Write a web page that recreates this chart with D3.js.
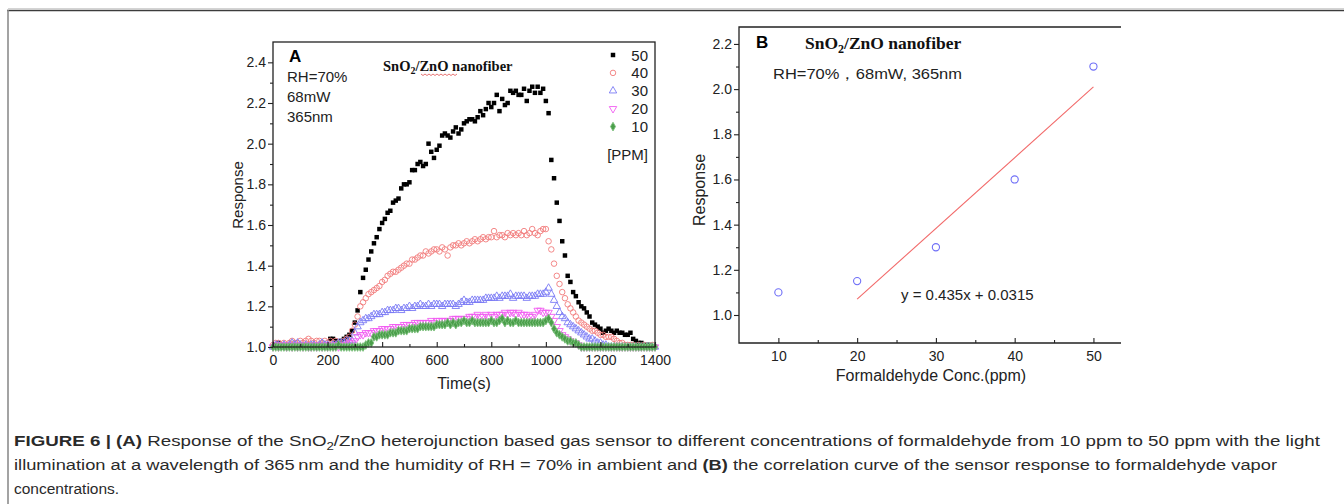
<!DOCTYPE html>
<html>
<head>
<meta charset="utf-8">
<script src="https://cdn.jsdelivr.net/npm/d3@7"></script>
<style>
body { margin: 0; background: #fff; }
svg { display: block; font-family: Arial, "Liberation Sans", sans-serif; }
</style>
</head>
<body>
<div id="container"></div>
<script>
var WIDTH = 1344, HEIGHT = 504;

// ---- panel A data: response vs time, one sample every 10 s from 0 to 1400 s ----
var TIME_STEP = 10;
var resp50 = [
	1.00,1.01,1.02,1.01,1.00,1.01,1.00,1.01,1.00,1.01,
	1.00,1.01,1.00,1.01,1.00,1.01,1.00,1.01,1.01,1.00,
	1.01,1.04,1.04,1.03,1.02,1.03,1.04,1.05,1.06,1.08,
	1.12,1.18,1.27,1.34,1.38,1.43,1.47,1.51,1.54,1.58,
	1.61,1.63,1.66,1.67,1.71,1.72,1.73,1.78,1.80,1.80,
	1.81,1.87,1.87,1.90,1.91,1.89,1.90,2.00,1.96,1.93,
	1.97,1.99,2.04,2.05,2.04,2.03,2.06,2.08,2.05,2.07,
	2.10,2.11,2.12,2.12,2.11,2.13,2.16,2.14,2.17,2.20,
	2.18,2.20,2.24,2.16,2.22,2.19,2.20,2.26,2.25,2.26,
	2.24,2.24,2.27,2.21,2.26,2.28,2.25,2.28,2.25,2.27,
	2.21,2.15,1.92,1.83,1.71,1.62,1.52,1.45,1.35,1.32,
	1.27,1.25,1.22,1.20,1.19,1.17,1.15,1.12,1.11,1.10,
	1.09,1.07,1.08,1.09,1.08,1.07,1.08,1.07,1.07,1.06,
	1.06,1.07,1.04,1.03,1.02,1.02,1.01,1.01,1.01,1.00,
	1.00];
var resp40 = [
	1.01,1.02,1.02,1.01,1.02,1.01,1.02,1.03,1.02,1.02,
	1.03,1.02,1.03,1.04,1.03,1.02,1.03,1.03,1.02,1.03,
	1.02,1.03,1.02,1.03,1.02,1.02,1.03,1.04,1.05,1.08,
	1.11,1.15,1.20,1.22,1.24,1.26,1.27,1.28,1.29,1.30,
	1.32,1.33,1.35,1.36,1.37,1.37,1.38,1.39,1.40,1.41,
	1.41,1.43,1.43,1.44,1.45,1.45,1.47,1.46,1.47,1.48,
	1.48,1.47,1.49,1.48,1.45,1.49,1.50,1.50,1.51,1.50,
	1.51,1.52,1.51,1.52,1.53,1.52,1.53,1.54,1.53,1.54,
	1.54,1.57,1.54,1.55,1.55,1.54,1.56,1.55,1.56,1.55,
	1.56,1.55,1.57,1.55,1.56,1.58,1.56,1.55,1.57,1.58,
	1.58,1.52,1.48,1.41,1.35,1.31,1.27,1.24,1.21,1.19,
	1.17,1.15,1.13,1.12,1.11,1.10,1.09,1.08,1.08,1.07,
	1.06,1.06,1.05,1.05,1.05,1.04,1.03,1.02,1.02,1.01,
	1.01,1.01,1.01,1.00,1.01,1.00,1.01,1.00,1.00,1.01,
	1.00];
var resp30 = [
	1.00,1.01,1.01,1.00,1.01,1.00,1.01,1.02,1.01,1.02,
	1.01,1.00,1.01,1.00,1.01,1.01,1.00,1.01,1.02,1.01,
	1.01,1.00,1.01,1.01,1.02,1.02,1.02,1.03,1.03,1.03,
	1.07,1.10,1.12,1.13,1.14,1.14,1.15,1.16,1.16,1.16,
	1.17,1.17,1.18,1.18,1.18,1.19,1.19,1.18,1.19,1.19,
	1.20,1.19,1.20,1.20,1.21,1.20,1.20,1.21,1.20,1.21,
	1.21,1.21,1.20,1.21,1.21,1.21,1.21,1.20,1.21,1.22,
	1.23,1.22,1.22,1.23,1.23,1.23,1.23,1.23,1.24,1.24,
	1.24,1.24,1.25,1.24,1.25,1.25,1.25,1.26,1.24,1.25,
	1.25,1.25,1.25,1.24,1.25,1.25,1.25,1.26,1.26,1.26,
	1.27,1.29,1.26,1.23,1.20,1.17,1.15,1.14,1.12,1.11,
	1.10,1.09,1.08,1.07,1.06,1.05,1.04,1.04,1.03,1.02,
	1.02,1.01,1.01,1.00,1.00,1.00,1.00,1.00,1.00,1.00,
	1.00,1.00,1.00,1.00,1.00,1.00,1.00,1.00,1.00,1.00,
	1.00];
var resp20 = [
	1.00,1.01,1.00,1.01,1.01,1.00,1.01,1.00,1.01,1.00,
	1.01,1.00,1.01,1.00,1.00,1.01,1.00,1.01,1.00,1.01,
	1.00,1.01,1.00,1.01,1.00,1.01,1.01,1.01,1.02,1.02,
	1.03,1.05,1.06,1.06,1.07,1.07,1.07,1.08,1.08,1.08,
	1.09,1.09,1.09,1.09,1.10,1.10,1.10,1.10,1.11,1.11,
	1.11,1.11,1.12,1.12,1.12,1.12,1.12,1.12,1.13,1.12,
	1.13,1.13,1.13,1.13,1.13,1.13,1.14,1.14,1.14,1.14,
	1.14,1.14,1.15,1.15,1.15,1.16,1.15,1.15,1.16,1.15,
	1.16,1.15,1.16,1.16,1.16,1.17,1.16,1.17,1.17,1.16,
	1.17,1.16,1.16,1.16,1.15,1.15,1.16,1.18,1.18,1.17,
	1.17,1.17,1.15,1.13,1.10,1.08,1.06,1.05,1.04,1.03,
	1.02,1.02,1.01,1.00,1.00,1.00,1.00,1.00,1.00,1.00,
	1.00,1.00,1.00,1.00,1.00,1.00,1.00,1.00,1.00,1.00,
	1.00,1.00,1.00,1.00,1.00,1.00,1.00,1.00,1.00,1.00,
	1.00];
var resp10 = [
	1.00,1.00,1.00,1.00,1.00,1.00,1.00,1.00,1.00,1.00,
	1.00,1.00,1.00,1.00,1.00,1.00,1.00,1.00,1.00,1.00,
	1.00,1.00,1.00,1.00,1.01,1.00,1.00,1.00,1.00,1.00,
	1.00,1.00,1.00,1.00,1.01,1.02,1.02,1.05,1.05,1.06,
	1.06,1.06,1.06,1.07,1.07,1.07,1.08,1.08,1.08,1.08,
	1.09,1.09,1.09,1.09,1.10,1.10,1.10,1.10,1.10,1.10,
	1.11,1.11,1.11,1.11,1.12,1.11,1.12,1.11,1.12,1.12,
	1.13,1.12,1.12,1.13,1.12,1.12,1.12,1.12,1.12,1.12,
	1.13,1.12,1.12,1.13,1.14,1.12,1.13,1.12,1.12,1.13,
	1.12,1.12,1.12,1.12,1.12,1.12,1.12,1.12,1.12,1.12,
	1.13,1.14,1.12,1.09,1.07,1.06,1.05,1.04,1.03,1.03,
	1.02,1.02,1.01,1.00,1.00,1.00,1.00,1.00,1.00,1.00,
	1.00,1.00,1.00,1.00,1.00,1.00,1.00,1.00,1.00,1.00,
	1.00,1.00,1.00,1.00,1.00,1.00,1.00,1.00,1.00,1.00,
	1.00];
var legendLabelsA = ['50', '40', '30', '20', '10'];
var xTicksA = [0, 200, 400, 600, 800, 1000, 1200, 1400];
var yTicksA = [1.0, 1.2, 1.4, 1.6, 1.8, 2.0, 2.2, 2.4];

// ---- panel B data: response vs formaldehyde concentration ----
var concB = [10, 20, 30, 40, 50];
var respB = [1.10, 1.15, 1.30, 1.60, 2.10];
var fitConc = [20, 50];
var fitResp = [1.07, 2.01];
var xTicksB = [10, 20, 30, 40, 50];
var yTicksB = [1.0, 1.2, 1.4, 1.6, 1.8, 2.0, 2.2];

// marker styles, same order as legendLabelsA
var styleA = [
	{ sym: d3.symbolSquare, size: 20, fill: '#000', stroke: 'none', rot: 0 },
	{ sym: d3.symbolCircle, size: 24, fill: 'none', stroke: '#f27c7c', rot: 0 },
	{ sym: d3.symbolTriangle, size: 24, fill: 'none', stroke: '#7a7af5', rot: 0 },
	{ sym: d3.symbolTriangle, size: 24, fill: 'none', stroke: '#f25cf2', rot: 180 },
	{ sym: d3.symbolDiamond, size: 22, fill: '#4a9e4a', stroke: '#7cc07c', rot: 0 }
];

var translate = function (x, y) {
	return 'translate(' + x + ',' + y + ')';
};

var svg = d3.select('#container').append('svg')
	.attr('width', WIDTH)
	.attr('height', HEIGHT);

svg.append('rect').attr('width', WIDTH).attr('height', HEIGHT).attr('fill', '#fff');

// outer figure frame (top and left rules)
svg.append('line').attr('x1', 8).attr('x2', WIDTH).attr('y1', 8.5).attr('y2', 8.5)
	.attr('stroke', '#d4d4d4').attr('stroke-width', 1);
svg.append('line').attr('x1', 7).attr('x2', WIDTH).attr('y1', 10.5).attr('y2', 10.5)
	.attr('stroke', '#3c3c3c').attr('stroke-width', 1.6);
svg.append('line').attr('x1', 8).attr('x2', 8).attr('y1', 10).attr('y2', HEIGHT)
	.attr('stroke', '#8c8c8c').attr('stroke-width', 1.6);

function minorTicks(major) {
	var out = [];
	for (var i = 0; i < major.length - 1; i++) out.push((major[i] + major[i + 1]) / 2);
	return out;
}

function drawAxes(g, x, y, xt, yt, xMinor, yMinor) {
	var x0 = x.range()[0], y0 = y.range()[0];
	var ax = g.append('g').attr('class', 'axes');
	ax.append('g').attr('transform', translate(0, y0))
		.call(d3.axisBottom(x).tickValues(xMinor).tickSize(-3).tickFormat(''))
		.call(function (a) { a.select('.domain').remove(); });
	ax.append('g').attr('class', 'xlab').attr('transform', translate(0, y0))
		.call(d3.axisBottom(x).tickValues(xt).tickSize(-5).tickPadding(8).tickFormat(d3.format('d')))
		.call(function (a) { a.select('.domain').remove(); });
	ax.append('g').attr('transform', translate(x0, 0))
		.call(d3.axisLeft(y).tickValues(yMinor).tickSize(3).tickFormat(''))
		.call(function (a) { a.select('.domain').remove(); });
	ax.append('g').attr('class', 'ylab').attr('transform', translate(x0, 0))
		.call(d3.axisLeft(y).tickValues(yt).tickSize(5).tickPadding(2).tickFormat(d3.format('.1f')))
		.call(function (a) { a.select('.domain').remove(); });
	ax.selectAll('g').attr('font-size', null).attr('font-family', null);
	ax.selectAll('.tick text').style('font-size', '14px').attr('fill', '#222');
	ax.selectAll('.tick line').attr('stroke', '#222').attr('stroke-width', 1.1);
}

// ================= Panel A =================
var xA = d3.scaleLinear().domain([0, 1400]).range([273, 655]);
var yA = d3.scaleLinear().domain([1.0, 2.5]).range([347, 42]);
var gA = svg.append('g');

var seriesA = [resp50, resp40, resp30, resp20, resp10];
seriesA.forEach(function (vals, si) {
	var st = styleA[si];
	var sym = d3.symbol().type(st.sym).size(st.size);
	gA.append('g').selectAll('path').data(vals).enter().append('path')
		.attr('d', sym)
		.attr('transform', function (d, i) {
			return translate(xA(i * TIME_STEP), yA(d)) + (st.rot ? ' rotate(' + st.rot + ')' : '');
		})
		.attr('fill', st.fill)
		.attr('stroke', st.stroke)
		.attr('stroke-width', 0.9);
});

drawAxes(gA, xA, yA, xTicksA, yTicksA, minorTicks(xTicksA), minorTicks(yTicksA));
gA.append('rect').attr('x', 273).attr('y', 42).attr('width', 655 - 273).attr('height', 347 - 42)
	.attr('fill', 'none').attr('stroke', '#222').attr('stroke-width', 1.3);

gA.append('text').attr('x', 289).attr('y', 62).attr('font-size', 17).attr('font-weight', 'bold').text('A');
['RH=70%', '68mW', '365nm'].forEach(function (t, i) {
	gA.append('text').attr('x', 287).attr('y', 82 + i * 20).attr('font-size', 15).attr('fill', '#222').text(t);
});

var titleA = gA.append('text').attr('x', 383).attr('y', 71)
	.attr('font-family', '"Liberation Serif", "Times New Roman", serif')
	.attr('font-weight', 'bold').attr('font-size', 14.5).attr('fill', '#111');
titleA.append('tspan').text('SnO');
titleA.append('tspan').attr('font-size', 10).attr('dy', 3).text('2');
titleA.append('tspan').attr('dy', -3).text('/ZnO nanofiber');
// red spell-check squiggle under "ZnO"
var sq = d3.path();
sq.moveTo(421, 74);
for (var k = 0; k < 18; k++) sq.lineTo(421 + (k + 1) * 2, k % 2 ? 74 : 75.5);
gA.append('path').attr('d', sq.toString()).attr('fill', 'none').attr('stroke', '#e05050').attr('stroke-width', 0.8);

// legend
legendLabelsA.forEach(function (lab, i) {
	var st = styleA[i];
	var cy = 55 + i * 17.9;
	gA.append('path').attr('d', d3.symbol().type(st.sym).size(st.size)())
		.attr('transform', translate(613, cy) + (st.rot ? ' rotate(' + st.rot + ')' : ''))
		.attr('fill', st.fill).attr('stroke', st.stroke).attr('stroke-width', 0.9);
	gA.append('text').attr('x', 648).attr('y', cy + 5.5).attr('text-anchor', 'end')
		.attr('font-size', 15).attr('fill', '#222').text(lab);
});
gA.append('text').attr('x', 648).attr('y', 160).attr('text-anchor', 'end')
	.attr('font-size', 15).attr('fill', '#222').text('[PPM]');

gA.append('text').attr('transform', translate(243, 195) + ' rotate(-90)')
	.attr('text-anchor', 'middle').attr('font-size', 15).attr('fill', '#222').text('Response');
gA.append('text').attr('x', 464).attr('y', 389).attr('text-anchor', 'middle')
	.attr('font-size', 16).attr('fill', '#222').text('Time(s)');

// ================= Panel B =================
var xB = d3.scaleLinear().domain([5, 53.5]).range([739, 1121]);
var yB = d3.scaleLinear().domain([0.876, 2.275]).range([343, 27]);
var gB = svg.append('g');

drawAxes(gB, xB, yB, xTicksB, yTicksB, [15, 25, 35, 45], minorTicks(yTicksB));
gB.append('path').attr('d', 'M1121,27H739V343H1121')
	.attr('fill', 'none').attr('stroke', '#222').attr('stroke-width', 1.3);

var fitLine = d3.line().x(function (d) { return xB(d[0]); }).y(function (d) { return yB(d[1]); });
gB.append('path').attr('d', fitLine(d3.zip(fitConc, fitResp)))
	.attr('stroke', '#f26a6a').attr('stroke-width', 1.1).attr('fill', 'none');
gB.selectAll('circle.pt').data(d3.zip(concB, respB)).enter().append('circle')
	.attr('class', 'pt')
	.attr('cx', function (d) { return xB(d[0]); })
	.attr('cy', function (d) { return yB(d[1]); })
	.attr('r', 3.6).attr('fill', 'none').attr('stroke', '#6f6ff7').attr('stroke-width', 1.1);

gB.append('text').attr('x', 756).attr('y', 48).attr('font-size', 17).attr('font-weight', 'bold').text('B');
var titleB = gB.append('text').attr('x', 805).attr('y', 49)
	.attr('font-family', '"Liberation Serif", "Times New Roman", serif')
	.attr('font-weight', 'bold').attr('font-size', 17.5).attr('fill', '#111');
titleB.append('tspan').text('SnO');
titleB.append('tspan').attr('font-size', 12).attr('dy', 4).text('2');
titleB.append('tspan').attr('dy', -4).text('/ZnO nanofiber');
gB.append('text').attr('x', 773).attr('y', 79).attr('font-size', 15).attr('fill', '#222')
	.attr('textLength', 189).attr('lengthAdjust', 'spacingAndGlyphs')
	.text('RH=70%\uFF0C68mW, 365nm');
gB.append('text').attr('x', 901).attr('y', 300).attr('font-size', 15).attr('fill', '#222')
	.text('y = 0.435x + 0.0315');

gB.append('text').attr('transform', translate(705, 190) + ' rotate(-90)')
	.attr('text-anchor', 'middle').attr('font-size', 16).attr('fill', '#222').text('Response');
gB.append('text').attr('x', 931).attr('y', 381).attr('text-anchor', 'middle')
	.attr('font-size', 16).attr('fill', '#222').text('Formaldehyde Conc.(ppm)');

// ================= Caption =================
var cap = svg.append('g').attr('font-size', 15.5).attr('fill', '#2a2a2a');
var l1 = cap.append('text').attr('x', 14).attr('y', 446)
	.attr('textLength', 1306).attr('lengthAdjust', 'spacingAndGlyphs');
l1.append('tspan').attr('font-weight', 'bold').text('FIGURE 6 | (A)');
l1.append('tspan').text(' Response of the SnO');
l1.append('tspan').attr('font-size', 11).attr('dy', 4).text('2');
l1.append('tspan').attr('dy', -4).text('/ZnO heterojunction based gas sensor to different concentrations of formaldehyde from 10 ppm to 50 ppm with the light');
var l2 = cap.append('text').attr('x', 14).attr('y', 470)
	.attr('textLength', 1263).attr('lengthAdjust', 'spacingAndGlyphs');
l2.append('tspan').text('illumination at a wavelength of 365\u2009nm and the humidity of RH = 70% in ambient and ');
l2.append('tspan').attr('font-weight', 'bold').text('(B)');
l2.append('tspan').text(' the correlation curve of the sensor response to formaldehyde vapor');
cap.append('text').attr('x', 14).attr('y', 494).text('concentrations.');
</script>
</body>
</html>
